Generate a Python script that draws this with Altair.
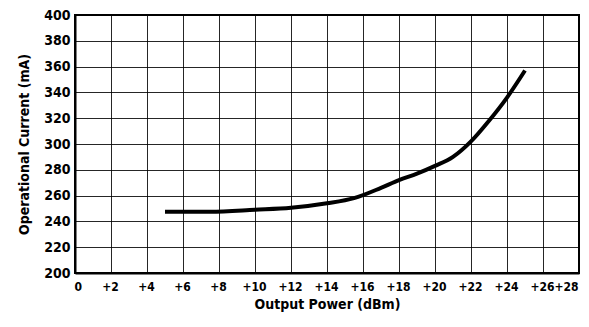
import altair as alt
import pandas as pd

power_dbm = [5, 7.5, 10, 12, 14, 15.5, 17, 18, 19, 20, 21, 22, 23, 24, 25]
current_ma = [247.5, 247.5, 249, 250.5, 254, 258, 266, 272, 277, 283, 290, 302, 318, 336, 357]

x_ticks = list(range(0, 29, 2))
y_ticks = list(range(200, 401, 20))

df = pd.DataFrame({"p": power_dbm, "i": current_ma})

FONT = "'DejaVu Sans Condensed', Roboto, sans-serif"

chart = alt.Chart(df).mark_line(
    color="black", strokeWidth=4, interpolate="monotone"
).encode(
    x=alt.X("p:Q", scale=alt.Scale(domain=[0, 28], nice=False),
            axis=alt.Axis(values=x_ticks, title="Output Power (dBm)", labelOverlap=False,
                          labelFlush=True,
                          labelExpr="datum.value == 0 ? '0' : '+' + datum.value")),
    y=alt.Y("i:Q", scale=alt.Scale(domain=[200, 400], nice=False, zero=False),
            axis=alt.Axis(values=y_ticks, title="Operational Current (mA)", labelOverlap=False)),
).properties(
    width=504, height=258,
    autosize=alt.AutoSizeParams(type="none"),
    padding={"left": 67, "top": 7, "right": 2, "bottom": 44},
).configure_view(
    stroke="black", strokeWidth=2
).configure_axis(
    grid=True, gridColor="black", gridWidth=1, gridOpacity=0.85,
    domainColor="black", domainWidth=2,
    ticks=False, labelPadding=5,
    labelFont=FONT, labelFontSize=14, labelFontWeight="bold", labelColor="black",
    titleFont=FONT, titleFontSize=14, titleFontWeight="bold", titleColor="black",
).configure_axisX(
    labelPadding=8, titlePadding=5, labelFontSize=12, labelOffset=-1
).configure_axisY(
    titlePadding=12
)

chart.save("out.html", embed_options={"renderer": "svg", "actions": False})
